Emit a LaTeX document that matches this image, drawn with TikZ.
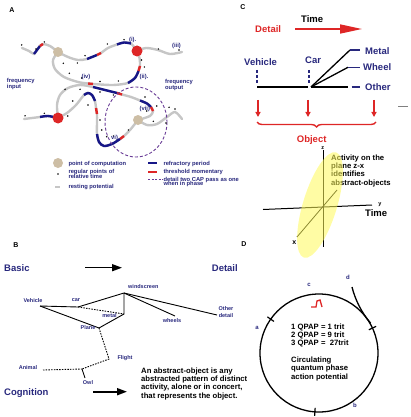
\documentclass[tikz,border=0pt]{standalone}
\usepackage{fontspec}
\setmainfont{Liberation Sans}
\usetikzlibrary{arrows.meta}
\usetikzlibrary{decorations.pathreplacing}

\definecolor{navy}{RGB}{40,40,125}
\definecolor{apred}{RGB}{222,38,38}
\definecolor{restgray}{RGB}{198,198,198}
\definecolor{refblue}{RGB}{22,22,135}
\definecolor{comptan}{RGB}{205,190,165}
\definecolor{phase}{RGB}{105,60,150}
\definecolor{planeyel}{RGB}{255,250,90}

\newcommand{\sz}[1]{\fontsize{#1}{#1}\selectfont\bfseries}

\tikzset{
  tag/.style={font=\sz{7},inner sep=0pt},
  small/.style={text=navy,font=\sz{5.8},inner sep=0pt,anchor=base west},
  leaf/.style={text=navy,font=\sz{5.5},inner sep=0pt},
  head/.style={text=navy,font=\sz{9.5},inner sep=0pt,anchor=base west},
  note/.style={font=\sz{7.7},inner sep=0pt,anchor=base west},
  rest/.style={restgray,line width=2.4pt,line cap=round},
  refr/.style={refblue,line width=2.4pt},
  thresh/.style={apred,line width=2.4pt},
  comp/.style={circle,fill=comptan,minimum size=10pt,inner sep=0pt},
  fire/.style={circle,fill=apred,minimum size=11pt,inner sep=0pt},
  link/.style={line width=0.9pt},
  weak/.style={line width=0.9pt,dash pattern=on 1.5pt off 1.2pt},
  fat/.style={line width=1.4pt,-{Triangle[length=10pt,width=7pt]}},
  down/.style={apred,line width=1.3pt,-{Triangle[length=5pt,width=5pt]}}
}

\begin{document}
\begin{tikzpicture}[x=1pt,y=-1pt]
\useasboundingbox (0,0) rectangle (410,417);

% ---- A: the network of pulses
\node[tag] (labA) at (12,10) {A};
\draw[rest] plot[smooth] coordinates {(22,48) (29,51) (34,54) (37,50) (40,46) (43,44) (50,46) (58,52)};
\draw[rest] plot[smooth] coordinates {(58,52) (68,57) (78,60) (87,59) (97,55) (101,53) (108,48) (117,44.5) (124,42.5) (131,43.5) (137,51)};
\draw[rest] plot[smooth] coordinates {(137,51) (146,48) (158,50) (170,54) (182,52)};
\draw[rest] plot[smooth] coordinates {(58,52) (53,60) (55,69) (64,77) (78,82) (88,83.5) (93,84) (113,85) (128,83) (135,78) (138.5,71) (140,66) (139.5,58) (137,51)};
\draw[rest] plot[smooth] coordinates {(58,118) (57,105) (60,95) (68,88) (80,85) (93,87) (105,90) (117,93) (122,94.5) (131,97) (140,100.5) (147,103.5) (151,107) (153,111) (150,116) (138,120)};
\draw[rest] plot[smooth] coordinates {(138,120) (130,130) (124,136) (120,139) (112,144) (104,146) (99,142) (97,134) (97,122) (97,114) (96,108) (95,101) (92,95) (88,93) (84,95) (76,105) (67,113) (58,118)};
\draw[rest] plot[smooth] coordinates {(58,118) (48,116) (40,117) (24,119)};
\draw[rest] plot[smooth] coordinates {(138,120) (147,125) (157,124) (167,117) (175,112) (182,119)};
% refractory and threshold parts
\draw[refr] plot[smooth] coordinates {(34,54) (37,50) (40,46)};
\draw[thresh] (40,46) -- (43,44);
\draw[refr] (87,59) -- (97,55);
\draw[thresh] (97,55) -- (101,53);
\draw[refr] plot[smooth] coordinates {(117,44.5) (124,42.5) (131,43.5)};
\draw[thresh] (88,83.5) -- (93,84);
\draw[refr] plot[smooth] coordinates {(128,83) (135,78) (138.5,71)};
\draw[thresh] (138.5,71) -- (140,66);
\draw[refr] plot[smooth] coordinates {(93,87) (105,90) (117,93)};
\draw[thresh] (117,93) -- (122,94.5);
\draw[refr] plot[smooth] coordinates {(140,100.5) (147,103.5) (151,107)};
\draw[thresh] (151,107) -- (153,111);
\draw[thresh] (124,136) -- (120,139);
\draw[refr] plot[smooth] coordinates {(120,139) (112,144) (104,146) (99,142) (97,134)};
\draw[thresh] (97,114) -- (96,108);
\draw[refr] plot[smooth] coordinates {(95,101) (92,95) (88,93) (84,95)};
\draw[refr] plot[smooth] coordinates {(58,118) (48,116) (40,117)};
% two pulses in phase
\draw[phase,line width=0.9pt,dash pattern=on 3pt off 2pt] (136,122) ellipse (31 and 35);
% points of computation
\node[comp] (pc1) at (58,52) {};
\node[comp] (pc2) at (138,120) {};
\node[fire] (pf1) at (137,51) {};
\node[fire] (pf2) at (58,118) {};
% regular points of relative time
\foreach \p in {(21.7,45),(36,49),(44.3,42),(63.3,63.3),(77.3,63),(85,55.7),(107.3,44),(124,39.7),(158.3,49),(179,50),(141.5,60),(144.3,67),(69.3,73.3),(81.7,78),(100,81.5),(118.3,81),(65,89.3),(72.7,101),(80,89.3),(100,92),(113.3,95),(145,97),(156.7,106),(169,107.3),(146.7,111),(44.3,113.3),(25,115.8),(67.7,116),(88,105),(100,120),(101.7,130),(106.7,136.7),(113.3,136),(128.3,130),(153.3,121.3),(175,109),(166,123)}
  \fill \p circle (0.8);
\node[small] (i1) at (129,41.5) {(i).};
\node[small] (i3) at (172,48) {(iii)};
\node[small] (i2) at (139.5,79) {(ii).};
\node[small] (i4) at (81.5,79) {(iv)};
\node[small] (i7) at (139.5,110.5) {(vii)};
\node[small] (i6) at (111,139) {vi)};
\node[small] (fin1) at (6.7,82.5) {frequency};
\node[small] (fin2) at (6.7,89) {input};
\node[small] (fout1) at (165,83.3) {frequency};
\node[small] (fout2) at (165,90) {output};
% legend
\node[comp] (keyc) at (58,163) {};
\fill (58,174) circle (0.8);
\draw[restgray,line width=1.6pt] (55,187) -- (60,187);
\draw[refblue,line width=2pt] (148,163.3) -- (157,163.3);
\draw[apred,line width=2pt] (148,171.7) -- (157,171.7);
\draw[phase,line width=0.9pt,dash pattern=on 2pt off 1.5pt] (148,179.3) -- (162.5,179.3);
\node[small] (k1) at (68.3,165) {point of computation};
\node[small] (k2) at (68.3,173.3) {regular points of};
\node[small] (k3) at (68.3,178.5) {relative time};
\node[small] (k4) at (68.3,188.3) {resting potential};
\node[small] (k5) at (163.3,165) {refractory period};
\node[small] (k6) at (163.3,173.3) {threshold momentary};
\node[small] (k7) at (163.3,181) {detail two CAP pass as one};
\node[small] (k8) at (163.3,185.8) {when in phase};

% ---- C: detail in time
\node[tag] (labC) at (243,7) {C};
\node[head,text=apred] (detC) at (255,32.3) {Detail};
\node[head,text=black] (timeC) at (301,22.7) {Time};
\coordinate (t0) at (295,29);
\coordinate (t1) at (362,29);
\draw[apred,line width=1.6pt,-{Triangle[length=22pt,width=9pt]}] (t0) -- (t1);
\node[head] (veh) at (244,65.7) {Vehicle};
\node[head] (car) at (305,63.3) {Car};
\node[head] (met) at (365,54.3) {Metal};
\node[head] (whl) at (363,71) {Wheel};
\node[head] (oth) at (365,90.7) {Other};
\coordinate (vb) at (257,87);
\coordinate (cb) at (308,87);
\coordinate (fork) at (311,87);
\coordinate (m0) at (350,50);
\coordinate (w0) at (348,67.3);
\coordinate (o0) at (348,87);
\draw[line width=1.3pt] (vb) -- (cb);
\draw[line width=1.3pt] (fork) -- (m0);
\draw[line width=1.3pt] (fork) -- (w0);
\draw[line width=1.3pt] (fork) -- (o0);
\draw[navy,line width=1.5pt] (m0) -- (360,50);
\draw[navy,line width=1.5pt] (w0) -- (360,67.3);
\draw[navy,line width=1.5pt] (351.7,87) -- (360,87);
\draw[navy,line width=1.3pt,dash pattern=on 3pt off 2pt] (257,70) -- (257,83);
\draw[navy,line width=1.3pt,dash pattern=on 3pt off 2pt] (309,70) -- (309,84);
\foreach \x in {258,308,374}
  \draw[down] (\x,100) -- (\x,117);
\draw[apred,line width=1.4pt,decorate,decoration={brace,amplitude=5pt}] (376,122) -- (257,122);
\node[head,text=apred] (obj) at (296.7,142.7) {Object};
\draw[gray,line width=0.8pt] (398,106) -- (408,106);
% axes
\coordinate (orig) at (323,207);
\node[note] (act1) at (331,160) {Activity on the};
\node[note] (act2) at (331,168.3) {plane z-x};
\node[note] (act3) at (331,176.7) {identifies};
\node[note] (act4) at (331,185) {abstract-objects};
\draw[line width=1pt] (323,150) -- (323,247);
\draw[line width=1pt] (263,209.5) -- (372,205);
\draw[line width=0.8pt] (337,190) -- (297,237);
\fill[planeyel,fill opacity=0.55,rotate around={73:(320,205)}] (320,205) ellipse (55 and 17);
\node[font=\sz{5.5},inner sep=0pt] (zlab) at (322.7,148) {z};
\node[font=\sz{5.5},inner sep=0pt] (ylab) at (380,204.3) {y};
\node[font=\sz{7},inner sep=0pt] (xlab) at (294.3,242.3) {x};
\node[head,text=black] (timeax) at (365,216.7) {Time};

% ---- B: basic to detail
\node[tag] (labB) at (16,245) {B};
\node[head] (basic) at (4,271.7) {Basic};
\node[head] (detB) at (211.7,271) {Detail};
\coordinate (ba0) at (85,267.7);
\coordinate (ba1) at (122,267.7);
\draw[fat] (ba0) -- (ba1);
\node[head] (cog) at (4,395) {Cognition};
\coordinate (ca0) at (93,391.7);
\coordinate (ca1) at (127,391.7);
\draw[fat,line width=1.8pt] (ca0) -- (ca1);
\coordinate (vehicle) at (40,306);
\coordinate (car) at (78,307);
\coordinate (wind) at (124,293);
\coordinate (metal) at (124,314);
\coordinate (plane) at (99,328);
\coordinate (wheels) at (175,316);
\coordinate (other) at (217,315);
\coordinate (flight) at (109,359);
\coordinate (join) at (82,369);
\coordinate (animal) at (43,370);
\coordinate (owl) at (85,378);
\draw[link] (vehicle) -- (car) -- (wind);
\draw[link] (vehicle) -- (plane) -- (metal) -- (wind);
\draw[link] (wind) -- (wheels);
\draw[link] (wind) -- (other);
\draw[weak] (car) -- (metal);
\draw[weak] (plane) -- (flight) -- (join);
\draw[weak] (animal) -- (join);
\draw[link] (join) -- (owl);
\node[leaf] (lveh) at (33,301) {Vehicle};
\node[leaf] (lcar) at (76,300) {car};
\node[leaf,anchor=west] (lwind) at (128,287) {windscreen};
\node[leaf] (lmet) at (109.5,316) {metal};
\node[leaf] (lpla) at (88,328) {Plane};
\node[leaf] (lwhe) at (172,321) {wheels};
\node[leaf] (loth1) at (226,309) {Other};
\node[leaf] (loth2) at (226,316) {detail};
\node[leaf] (lfli) at (125,358) {Flight};
\node[leaf] (lani) at (28,368) {Animal};
\node[leaf] (lowl) at (88,383) {Owl};
\foreach \t [count=\i from 0] in {An abstract-object is any, abstracted pattern of distinct, {activity, alone or in concert,}, that represents the object.}
  \node[note] (def\i) at (141,{373.3+8.3*\i}) {\t};

% ---- D: circulating pulse
\node[tag] (labD) at (244,244) {D};
\node[circle,draw,line width=1.3pt,minimum size=118pt,inner sep=0pt] (loop) at (319,353) {};
\foreach \a in {-145,-25,94}
  \draw[line width=1.2pt,shift={(319,353)}] (\a:55) -- (\a:63);
\coordinate (dtop) at (352,287);
\draw[line width=1.3pt] (dtop) .. controls (355,299) and (361,312) .. (loop.30);
\draw[apred,line width=1.3pt] (311,307) -- (316,307) -- (317,301) -- (320,300) -- (322,307);
\node[leaf,font=\sz{6}] (la) at (257,328) {a};
\node[leaf,font=\sz{6}] (lb) at (355,405) {b};
\node[leaf,font=\sz{6}] (lc) at (309,285) {c};
\node[leaf,font=\sz{6}] (ld) at (348,277) {d};
\foreach \t [count=\i from 0] in {1 QPAP = 1 trit, 2 QPAP = 9 trit, 3 QPAP =\ \ 27trit, {}, Circulating, quantum phase, action potential}
  \node[note] (qp\i) at (291,{329.3+8.3*\i}) {\t};
\end{tikzpicture}
\end{document}
